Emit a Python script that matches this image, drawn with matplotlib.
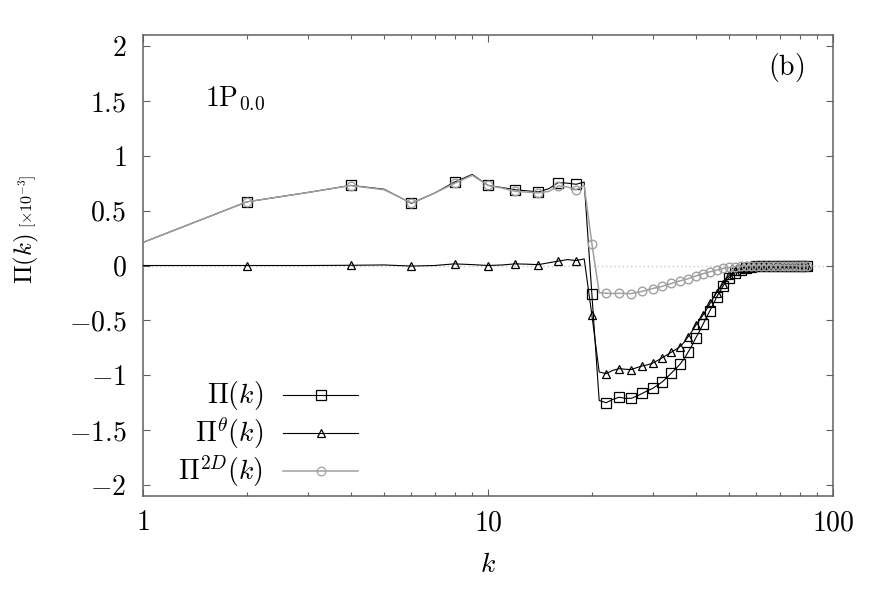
import numpy as np
import matplotlib
matplotlib.use("Agg")
import matplotlib.pyplot as plt

# Wavenumbers k = 1..85
k_max = 85
k = np.arange(1, k_max + 1)

# Total flux Pi(k)  [x1e-3]
pi_total = [0.21, 0.58, 0.665, 0.73, 0.695, 0.566, 0.66, 0.76, 0.83, 0.73,
            0.71, 0.69, 0.68, 0.67, 0.70, 0.756, 0.75, 0.74, 0.76, -0.26,
            -1.23, -1.25, -1.22, -1.20, -1.21, -1.21, -1.19, -1.165, -1.14, -1.12,
            -1.09, -1.06, -1.02, -0.98, -0.94, -0.90, -0.85, -0.79, -0.73, -0.66,
            -0.60, -0.535, -0.47, -0.41, -0.35, -0.286, -0.235, -0.187, -0.145, -0.11,
            -0.085, -0.066, -0.055, -0.045, -0.032, -0.02, -0.015, -0.01, -0.007, -0.005,
            -0.004, -0.004, -0.003, -0.003, -0.002, -0.002, -0.002, -0.001, -0.001, -0.001,
            0, 0, 0, 0, 0, 0, 0, 0, 0, 0,
            0, 0, 0, 0, 0]

# Pi^theta(k)
pi_theta = [0.0, 0.0, 0.0, 0.002, 0.005, -0.005, 0.0, 0.015, 0.008, 0.0,
            0.005, 0.015, 0.012, 0.008, 0.025, 0.04, 0.054, 0.045, 0.06, -0.45,
            -0.97, -0.985, -0.955, -0.94, -0.945, -0.948, -0.93, -0.915, -0.905, -0.89,
            -0.865, -0.84, -0.815, -0.79, -0.765, -0.74, -0.70, -0.65, -0.60, -0.545,
            -0.50, -0.45, -0.40, -0.346, -0.295, -0.247, -0.205, -0.165, -0.125, -0.09,
            -0.07, -0.05, -0.035, -0.025, -0.017, -0.01, -0.007, -0.005, -0.004, -0.003,
            -0.002, -0.002, -0.002, -0.001, -0.001, -0.001, -0.001, 0, 0, 0,
            0, 0, 0, 0, 0, 0, 0, 0, 0, 0,
            0, 0, 0, 0, 0]

# Pi^2D(k)
pi_2d = [0.21, 0.58, 0.665, 0.728, 0.69, 0.57, 0.66, 0.748, 0.822, 0.73,
         0.705, 0.675, 0.668, 0.662, 0.675, 0.725, 0.715, 0.69, 0.73, 0.20,
         -0.247, -0.253, -0.255, -0.253, -0.255, -0.256, -0.245, -0.235, -0.222, -0.21,
         -0.20, -0.19, -0.176, -0.163, -0.152, -0.14, -0.13, -0.12, -0.108, -0.096,
         -0.085, -0.075, -0.066, -0.057, -0.05, -0.042, -0.034, -0.027, -0.022, -0.018,
         -0.014, -0.01, -0.007, -0.005, -0.004, -0.003, -0.002, -0.002, -0.001, -0.001,
         -0.001, -0.001, 0, 0, 0, 0, 0, 0, 0, 0,
         0, 0, 0, 0, 0, 0, 0, 0, 0, 0,
         0, 0, 0, 0, 0]

labels = [r'$\Pi(k)$', r'$\Pi^{\theta}(k)$', r'$\Pi^{2D}(k)$']
y_ticks = [-2, -1.5, -1, -0.5, 0, 0.5, 1, 1.5, 2]
x_ticks = [1, 10, 100]

plt.rcParams['mathtext.fontset'] = 'cm'
plt.rcParams['font.family'] = 'serif'
plt.rcParams['font.serif'] = ['cmr10', 'DejaVu Serif']

gray = '#a0a0a0'
border = '#606060'

fig = plt.figure(figsize=(8.86, 5.91), dpi=100)
ax = fig.add_axes([0.1614, 0.1607, 0.7788, 0.7801])

# zero line
ax.axhline(0, color='#c8c8c8', ls=(0, (1, 2)), lw=1.0, zorder=1)

every = slice(1, None, 2)
ax.plot(k, pi_total, color='black', lw=0.8, marker='s', ms=7.2, mfc='none',
        mec='black', mew=0.9, markevery=every, zorder=3)
ax.plot(k, pi_theta, color='black', lw=0.8, marker='^', ms=5.5, mfc='none',
        mec='black', mew=0.9, markevery=every, zorder=3)
ax.plot(k, pi_2d, color=gray, lw=1.1, marker='o', ms=6.2, mfc='none',
        mec=gray, mew=1.0, markevery=every, zorder=4)

ax.set_xscale('log')
ax.set_xlim(1, 100)
ax.set_ylim(-2.1, 2.1)
ax.set_xticks(x_ticks)
ax.set_xticklabels([r'$%d$' % v for v in x_ticks])
ax.set_yticks(y_ticks)
ax.set_yticklabels([r'$%g$' % v if v >= 0 else r'$-%g$' % abs(v) for v in y_ticks])
ax.xaxis.set_minor_formatter(matplotlib.ticker.NullFormatter())
ax.tick_params(which='both', direction='in', top=True, right=True,
               color=border, labelsize=20)
ax.tick_params(which='major', length=5, width=0.8)
ax.tick_params(which='minor', length=3, width=0.8)
ax.tick_params(axis='x', pad=10)
ax.tick_params(axis='y', pad=12)
for s in ax.spines.values():
    s.set_color(border)
    s.set_linewidth(1.1)

ax.set_xlabel(r'$k$', fontsize=20, labelpad=11)

# y label: Pi(k) plus smaller [x10^-3]
fig.text(32 / 886, 1 - 259 / 591, r'$\Pi(k)$', fontsize=18, rotation=90,
         rotation_mode='anchor', ha='center', va='baseline')
fig.text(33 / 886, 1 - 201 / 591, r'$[\times 10^{-3}]$', fontsize=11.5, rotation=90,
         rotation_mode='anchor', ha='center', va='baseline')

ax.text(0.09, 0.845, r'$\mathrm{1P}_{0.0}$', transform=ax.transAxes, fontsize=20)
ax.text(0.958, 0.93, r'$\mathrm{(b)}$', transform=ax.transAxes, fontsize=20,
        ha='right', va='center')

# legend, labels right aligned before the line samples
styles = [dict(color='black', lw=0.8, marker='s', ms=7.2, mec='black'),
          dict(color='black', lw=0.8, marker='^', ms=5.5, mec='black'),
          dict(color=gray, lw=1.1, marker='o', ms=6.2, mec=gray)]
rows = [0.219, 0.137, 0.054]
for lab, st, yy in zip(labels, styles, rows):
    ax.text(0.174, yy, lab, transform=ax.transAxes, fontsize=20, ha='right', va='center')
    ax.plot([0.203, 0.258, 0.312], [yy, yy, yy], transform=ax.transAxes,
            mfc='none', mew=0.9, markevery=[1], clip_on=False, **st)

fig.savefig('out.png', dpi=100)
